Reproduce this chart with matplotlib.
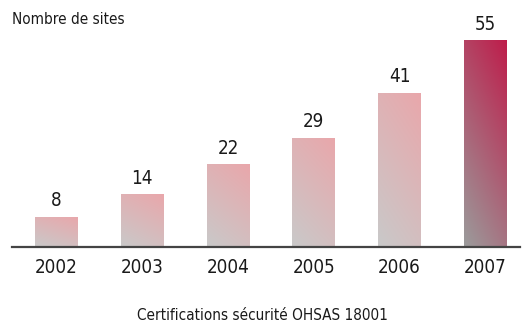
import numpy as np
import matplotlib
matplotlib.use("Agg")
import matplotlib.pyplot as plt
from matplotlib.colors import LinearSegmentedColormap
from matplotlib.patches import Rectangle

years = ["2002", "2003", "2004", "2005", "2006", "2007"]
sites = [8, 14, 22, 29, 41, 55]

plt.rcParams['font.family'] = ['DejaVu Sans']
plt.rcParams['font.stretch'] = 'condensed'

fig = plt.figure(figsize=(5.25, 3.24), dpi=100)
ax = fig.add_axes([0.023, 0.2377, 0.968, 0.7006])

pinkMap = LinearSegmentedColormap.from_list("pink", ["#c9c9c9", "#e9a7ab"])
redMap = LinearSegmentedColormap.from_list("red", ["#9b9b9b", "#be1d4b"])

barWidth = 0.5
# diagonal gradient: grey bottom-left to colour top-right
yy, xx = np.mgrid[0:1:100j, 0:1:40j]
grad = 0.3 * xx + 0.7 * yy

for i, val in enumerate(sites):
    x0 = i - barWidth / 2
    cmap = redMap if i == len(sites) - 1 else pinkMap
    rect = Rectangle((x0, 0), barWidth, val, facecolor="none", edgecolor="none")
    ax.add_patch(rect)
    im = ax.imshow(grad, cmap=cmap, origin="lower", aspect="auto",
                   extent=(x0, x0 + barWidth, 0, val), interpolation="bilinear")
    im.set_clip_path(rect)
    ax.text(i, val + 1.7, str(val), ha="center", va="bottom", fontsize=13.5, color="#1a1a1a")

ax.set_xlim(-0.519, 5.409)
ax.set_ylim(0, 60.3)
for side in ["top", "right", "left"]:
    ax.spines[side].set_visible(False)
ax.spines["bottom"].set_color("#444444")
ax.spines["bottom"].set_linewidth(1.6)
ax.set_yticks([])
ax.set_xticks(range(len(years)))
ax.set_xticklabels(years, fontsize=13.5, color="#1a1a1a")
ax.tick_params(axis="x", length=0, pad=8)

fig.text(0.023, 0.94, "Nombre de sites", fontsize=11, color="#1a1a1a", va="center")
fig.text(0.5, 0.012, "Certifications sécurité OHSAS 18001", fontsize=11,
         color="#1a1a1a", ha="center", va="baseline")

fig.savefig("out.png", dpi=100)
